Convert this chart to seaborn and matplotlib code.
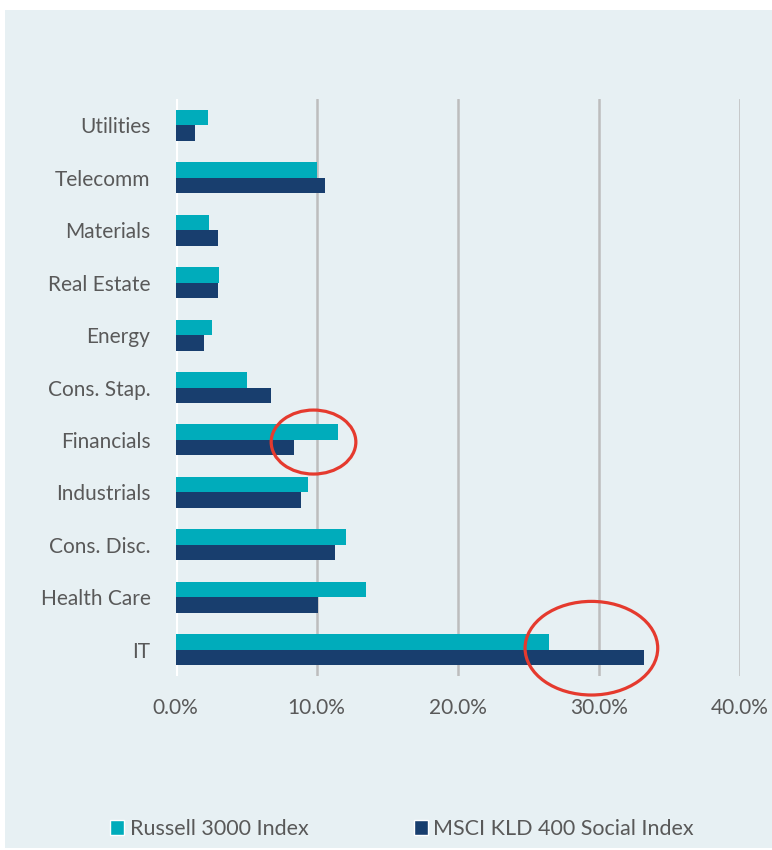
import matplotlib
matplotlib.use("Agg")
import matplotlib.pyplot as plt
from matplotlib.patches import Ellipse, Patch
from matplotlib.ticker import FuncFormatter, MultipleLocator
import seaborn as sns
import pandas as pd

# Sector weights (%) of the two indices
sectors = ["Utilities", "Telecomm", "Materials", "Real Estate", "Energy",
           "Cons. Stap.", "Financials", "Industrials", "Cons. Disc.",
           "Health Care", "IT"]
russell_3000 = [2.3, 10.0, 2.4, 3.1, 2.6, 5.1, 11.5, 9.4, 12.1, 13.5, 26.5]
msci_kld_400 = [1.4, 10.6, 3.0, 3.0, 2.0, 6.8, 8.4, 8.9, 11.3, 10.1, 33.2]
series_names = ["Russell 3000 Index", "MSCI KLD 400 Social Index"]

TEAL = "#00ACBB"
NAVY = "#183E6E"
PANEL = "#E7F0F3"
TEXT = "#595959"
RED = "#E53A2E"

df = pd.DataFrame({
    "sector": sectors * 2,
    "weight": russell_3000 + msci_kld_400,
    "index": [series_names[0]] * len(sectors) + [series_names[1]] * len(sectors),
})

sns.set_theme(style="white")
plt.rcParams["font.family"] = ["Lato", "DejaVu Sans"]

W, H = 772, 850
fig = plt.figure(figsize=(W / 100, H / 100), dpi=100)
fig.patch.set_facecolor("white")

# light panel behind the whole chart
panel = plt.Rectangle((5 / W, 2 / H), (W - 5) / W, (H - 12) / H,
                      transform=fig.transFigure, facecolor=PANEL,
                      edgecolor="none", zorder=-10)
fig.patches.append(panel)

x0, x1 = 175.5, 740.0
y_top, y_bot = 99.0, 676.0
ax = fig.add_axes([x0 / W, 1 - y_bot / H, (x1 - x0) / W, (y_bot - y_top) / H])
ax.set_facecolor("none")
ax.set_zorder(2)

sns.barplot(data=df, y="sector", x="weight", hue="index", order=sectors,
            hue_order=series_names, palette=[TEAL, NAVY], width=0.59,
            orient="h", ax=ax, linewidth=0, saturation=1, legend=False,
            zorder=3)

ax.set_xlim(0, 40)
ax.set_ylim(len(sectors) - 0.5, -0.5)
ax.xaxis.set_major_locator(MultipleLocator(10))
ax.xaxis.set_major_formatter(FuncFormatter(lambda v, p: f"{v:.1f}%"))
ax.grid(axis="x", color="#BDBDBD", linewidth=1.8, zorder=1)
ax.grid(axis="y", visible=False)
ax.set_axisbelow(True)
ax.axvline(0, color="white", linewidth=3, zorder=2)
for s in ax.spines.values():
    s.set_visible(False)
ax.set_xlabel("")
ax.set_ylabel("")
ax.tick_params(axis="x", length=0, pad=16, labelsize=15, labelcolor=TEXT)
ax.tick_params(axis="y", length=0, pad=18, labelsize=15, labelcolor=TEXT)

# highlight rings
for cx, cy, ew, eh in [(9.78, 6.04, 6.0, 1.22), (29.47, 9.97, 9.4, 1.785)]:
    ax.add_patch(Ellipse((cx, cy), ew, eh, fill=False, edgecolor=RED,
                         linewidth=2.3, zorder=5, clip_on=False))

handles = [Patch(facecolor=TEAL), Patch(facecolor=NAVY)]
fig.legend(handles, series_names, loc="center",
           bbox_to_anchor=(402 / W, 1 - 829 / H), ncol=2, frameon=False,
           fontsize=15.5, labelcolor=TEXT, handlelength=0.65, handleheight=0.65,
           handletextpad=0.25, columnspacing=4.9)

fig.savefig("out.png", dpi=100, facecolor=fig.get_facecolor())
